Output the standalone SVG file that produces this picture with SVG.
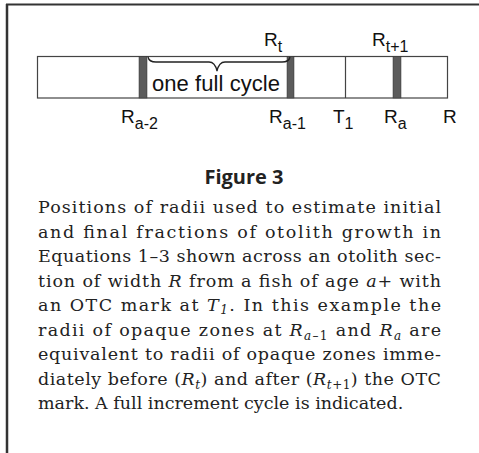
<svg xmlns="http://www.w3.org/2000/svg" width="479" height="453" viewBox="0 0 479 453">
<style>
.frame{stroke:#333;fill:none}
.bar{fill:#fff;stroke:#444;stroke-width:1.2}
.band{fill:#5c5c5c;stroke:#333;stroke-width:0.5}
.lab{font-family:"Liberation Sans",Arial,sans-serif;font-size:19px;fill:#111}
.big{font-size:22px}
.sub{font-size:16px}
.cap{font-family:"Open Sans","Liberation Sans",sans-serif;font-weight:bold;font-size:20px;fill:#222}
.body{font-family:"DejaVu Serif","Liberation Serif",serif;font-size:17.5px;fill:#222}
.it{font-style:italic}
.bs{font-size:12px}
</style>
<rect width="479" height="453" fill="#fff"/>
<g id="frame">
<line class="frame" x1="6" y1="4.5" x2="479" y2="4.5" stroke-width="2"/>
<line class="frame" x1="7" y1="4" x2="7" y2="453" stroke-width="2.5"/>
</g>
<g id="section">
<rect class="bar" x="37.5" y="56.5" width="410" height="41.5"/>
<line x1="345.5" y1="56.5" x2="345.5" y2="98" stroke="#444" stroke-width="1.2"/>
<rect class="band" x="139" y="56.5" width="8" height="41.5"/>
<rect class="band" x="287" y="56.5" width="7" height="41.5"/>
<rect class="band" x="393" y="56.5" width="8" height="41.5"/>
</g>
<g id="connectors">
<path d="M148,57 Q149,62 156,62 L209,62 Q215,62 217,71 Q219,62 225,62 L282,62 Q289,62 290,57" fill="none" stroke="#222" stroke-width="1.3"/>
</g>
<g id="cycle-label">
<text class="lab big" x="152" y="91" textLength="128">one full cycle</text>
</g>
<g id="top-labels">
<text class="lab" x="264" y="46">R<tspan class="sub" dy="6">t</tspan></text>
<text class="lab" x="372" y="46">R<tspan class="sub" dy="6">t+1</tspan></text>
</g>
<g id="bottom-labels">
<text class="lab" x="121" y="123">R<tspan class="sub" dy="6">a-2</tspan></text>
<text class="lab" x="269" y="123">R<tspan class="sub" dy="6">a-1</tspan></text>
<text class="lab" x="333" y="123">T<tspan class="sub" dy="6">1</tspan></text>
<text class="lab" x="384" y="123">R<tspan class="sub" dy="6">a</tspan></text>
<text class="lab" x="443" y="123">R</text>
</g>
<g id="caption">
<text class="cap" x="244" y="184" text-anchor="middle">Figure 3</text>
<text class="body" x="38" y="213" textLength="403">Positions of radii used to estimate initial</text>
<text class="body" x="38" y="237.5" textLength="403">and final fractions of otolith growth in</text>
<text class="body" x="38" y="262" textLength="403">Equations 1–3 shown across an otolith sec-</text>
<text class="body" x="38" y="286.5" textLength="403">tion of width <tspan class="it">R</tspan> from a fish of age <tspan class="it">a</tspan>+ with</text>
<text class="body" x="38" y="311" textLength="403">an OTC mark at <tspan class="it">T</tspan><tspan class="it bs" dy="3">1</tspan><tspan dy="-3">. In this example the</tspan></text>
<text class="body" x="38" y="335.5" textLength="403">radii of opaque zones at <tspan class="it">R</tspan><tspan class="bs" dy="4"><tspan class="it">a</tspan>–1</tspan><tspan dy="-4"> and </tspan><tspan class="it">R</tspan><tspan class="it bs" dy="4">a</tspan><tspan dy="-4"> are</tspan></text>
<text class="body" x="38" y="360" textLength="403">equivalent to radii of opaque zones imme-</text>
<text class="body" x="38" y="384.5" textLength="403">diately before (<tspan class="it">R</tspan><tspan class="it bs" dy="4">t</tspan><tspan dy="-4">) and after (</tspan><tspan class="it">R</tspan><tspan class="bs" dy="4"><tspan class="it">t</tspan>+1</tspan><tspan dy="-4">) the OTC</tspan></text>
<text class="body" x="38" y="409">mark. A full increment cycle is indicated.</text>
</g>
</svg>
